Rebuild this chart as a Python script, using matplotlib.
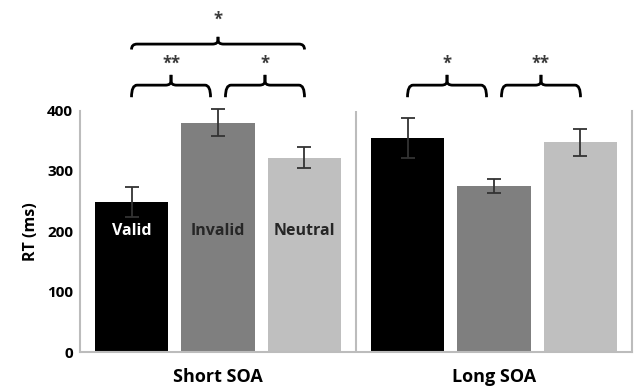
import matplotlib
matplotlib.use('Agg')
import matplotlib.pyplot as plt
import numpy as np
from matplotlib.path import Path
from matplotlib.patches import PathPatch

plt.rcParams['font.family'] = ['Open Sans', 'DejaVu Sans']
plt.rcParams['font.weight'] = 'bold'

groups = ['Short SOA', 'Long SOA']
conditions = ['Valid', 'Invalid', 'Neutral']
rt_means = {'Valid': [249, 354], 'Invalid': [380, 275], 'Neutral': [322, 347]}
rt_errs = {'Valid': [25, 33], 'Invalid': [22, 11], 'Neutral': [17, 22]}
colors = {'Valid': '#000000', 'Invalid': '#7f7f7f', 'Neutral': '#bfbfbf'}
label_colors = {'Valid': 'white', 'Invalid': '#262626', 'Neutral': '#262626'}

# significance brackets: (group, first bar, second bar, stars, level)
comparisons = [
    (0, 0, 1, '**', 0),
    (0, 1, 2, '*', 0),
    (0, 0, 2, '*', 1),
    (1, 0, 1, '*', 0),
    (1, 1, 2, '**', 0),
]

fig = plt.figure(figsize=(6.34, 3.87), dpi=100)
ax = fig.add_axes([80/634, 35/387, 552/634, 241.5/387])

x = np.arange(len(groups))
step = 0.3134
width = 0.2645
offsets = {c: (i - 1) * step for i, c in enumerate(conditions)}

for c in conditions:
    ax.bar(x + offsets[c], rt_means[c], width=width, color=colors[c], zorder=2)
    ax.errorbar(x + offsets[c], rt_means[c], yerr=rt_errs[c], fmt='none',
                ecolor='#333333', elinewidth=1.3, capsize=5, capthick=1.3,
                zorder=3, clip_on=False)
    ax.text(x[0] + offsets[c], 200, c, color=label_colors[c], ha='center',
            va='center', fontsize=11.5, fontweight='bold', zorder=4)

ax.set_xlim(-0.5, 1.5)
ax.set_ylim(0, 400)
ax.set_yticks([0, 100, 200, 300, 400])
ax.tick_params(axis='y', length=0, labelsize=11, pad=5)
ax.tick_params(axis='x', length=0, labelbottom=False)
for s in ['left', 'right', 'bottom']:
    ax.spines[s].set_color('#bcbcbc')
    ax.spines[s].set_linewidth(1.5)
ax.spines['top'].set_visible(False)
ax.axvline(0.5, color='#bcbcbc', lw=1.5)
ax.set_ylabel('RT (ms)', fontsize=11.5, fontweight='bold', labelpad=6)

for i, g in enumerate(groups):
    ax.text(x[i], -50, g, ha='center', va='baseline', fontsize=13,
            fontweight='bold', clip_on=False)


def brace(x1, x2, yh, drop, tip):
    xm = (x1 + x2) / 2
    rx, ry = 0.02, 7
    for xa, sgn in [(x1, 1), (x2, -1)]:
        verts = [(xa, yh - drop), (xa, yh), (xa + sgn * rx, yh),
                 (xm - sgn * rx, yh), (xm, yh), (xm, yh + ry), (xm, tip)]
        codes = [Path.MOVETO, Path.CURVE3, Path.CURVE3, Path.LINETO,
                 Path.CURVE3, Path.CURVE3, Path.LINETO]
        ax.add_patch(PathPatch(Path(verts, codes), fill=False, lw=2,
                               color='black', clip_on=False, capstyle='butt'))


for g, a, b, stars, level in comparisons:
    x1 = x[g] + offsets[conditions[a]]
    x2 = x[g] + offsets[conditions[b]]
    if level == 0:
        if a == 1:
            x1 += 0.027
        else:
            x2 -= 0.027
        brace(x1, x2, 442, 20, 459)
        ax.text((x1 + x2) / 2, 478, stars, ha='center', va='center',
                fontsize=12, color='#3a3a3a', clip_on=False)
    else:
        brace(x1, x2, 510, 9, 522)
        ax.text((x1 + x2) / 2, 551, stars, ha='center', va='center',
                fontsize=12, color='#3a3a3a', clip_on=False)

fig.savefig('out.png', dpi=100)
